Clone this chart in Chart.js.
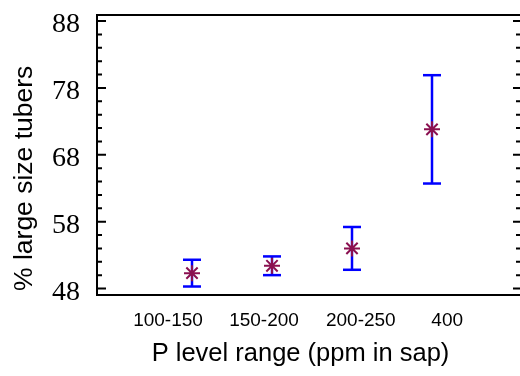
<!DOCTYPE html>
<html>
<head>
<meta charset="utf-8">
<script src="https://cdn.jsdelivr.net/npm/chart.js@4/dist/chart.umd.min.js"></script>
<style>
  html, body { margin: 0; padding: 0; background: #fff; }
  #wrap { width: 520px; height: 376px; }
</style>
</head>
<body>
<div id="wrap"><canvas id="c" width="520" height="376"></canvas></div>
<script>
// ---- data ----
const categories = ['100-150', '150-200', '200-250', '400'];
const means = [50.3, 51.4, 54.0, 71.8];
const errors = [2.0, 1.4, 3.2, 8.1];
const yTickValues = [48, 58, 68, 78, 88];

// ---- layout / style (not data) ----
const labelShift = [-0.3, -0.1, 0.11, 0.19];
const markerColor = '#8a1050';
const barColor = '#0000ff';

Chart.defaults.font.family = "'Liberation Sans', Arial, sans-serif";
Chart.defaults.color = '#000';

function shiftTitle(scale, dx, dy) {
  const orig = Object.getPrototypeOf(scale).drawTitle;
  scale.drawTitle = function () {
    this.ctx.save();
    this.ctx.translate(dx, dy);
    orig.call(this);
    this.ctx.restore();
  };
}

const framePlugin = {
  id: 'frame',
  afterDraw(chart) {
    const { ctx, chartArea: a, scales: { y } } = chart;
    ctx.save();
    ctx.strokeStyle = '#000';
    ctx.lineWidth = 2;
    ctx.beginPath();
    ctx.moveTo(a.right + 5, a.top);
    ctx.lineTo(a.left, a.top);
    ctx.lineTo(a.left, a.bottom);
    ctx.lineTo(a.right + 5, a.bottom);
    ctx.stroke();
    const first = yTickValues[0], last = yTickValues[yTickValues.length - 1];
    ctx.beginPath();
    for (let v = first; v <= last; v += 2) {
      const py = y.getPixelForValue(v);
      const major = (v - first) % 10 === 0;
      ctx.moveTo(a.left, py);
      ctx.lineTo(a.left + (major ? 9 : 5), py);
      ctx.moveTo(a.right, py);
      ctx.lineTo(a.right - (major ? 7 : 4), py);
    }
    ctx.stroke();
    ctx.restore();
  }
};

const pointData = means.map((m, i) => ({ x: i, y: m }));
const errorSets = means.map((m, i) => ({
  type: 'line',
  showLine: true,
  data: [{ x: i, y: m - errors[i] }, { x: i, y: m + errors[i] }],
  borderColor: barColor,
  borderWidth: 2.5,
  pointStyle: 'line',
  pointRadius: 9,
  pointBorderColor: barColor,
  pointBorderWidth: 2.5,
  order: 2
}));

new Chart(document.getElementById('c'), {
  type: 'scatter',
  data: {
    datasets: [
      {
        data: pointData,
        pointStyle: 'star',
        pointRadius: 8,
        pointBorderWidth: 2,
        pointBorderColor: markerColor,
        pointBackgroundColor: markerColor,
        order: 1
      },
      ...errorSets
    ]
  },
  options: {
    responsive: false,
    animation: false,
    layout: { autoPadding: false, padding: { top: 15, left: 0, right: 0, bottom: 0 } },
    plugins: { legend: { display: false }, tooltip: { enabled: false } },
    scales: {
      x: {
        type: 'linear',
        min: -1.1875,
        max: 4.1,
        grid: { display: false, drawTicks: false },
        border: { display: false },
        afterBuildTicks: s => { s.ticks = categories.map((_, i) => ({ value: i + labelShift[i] })); },
        ticks: {
          autoSkip: false,
          maxRotation: 0,
          padding: 14,
          font: { size: 19 },
          color: '#000',
          callback: (v, i) => categories[i]
        },
        title: {
          display: true,
          text: 'P level range (ppm in sap)',
          font: { size: 25.5 },
          color: '#000',
          padding: { top: 0, bottom: 7 }
        },
        afterFit: s => { s.height = 81; s.paddingLeft = 0; s.paddingRight = 0; shiftTitle(s, -8, 0); }
      },
      y: {
        type: 'linear',
        min: 47.03,
        max: 88.9,
        grid: { display: false, drawTicks: false },
        border: { display: false },
        afterBuildTicks: s => { s.ticks = yTickValues.map(v => ({ value: v })); },
        ticks: {
          padding: 17,
          labelOffset: 4,
          font: { family: "'Liberation Serif', 'Times New Roman', serif", size: 28 },
          color: '#000'
        },
        title: {
          display: true,
          text: '% large size tubers',
          align: 'start',
          font: { size: 26.5 },
          color: '#000',
          padding: { top: 9, bottom: 0 }
        },
        afterFit: s => { s.width = 97; s.paddingTop = 0; s.paddingBottom = 0; shiftTitle(s, 0, -4); }
      }
    }
  },
  plugins: [framePlugin]
});
</script>
</body>
</html>
